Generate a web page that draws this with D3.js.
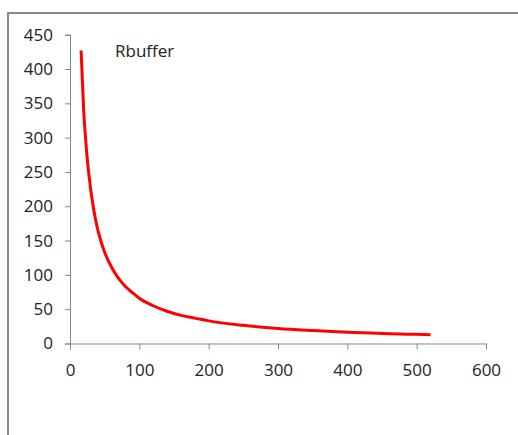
<!DOCTYPE html>
<html>
<head>
<meta charset="utf-8">
<script src="https://cdn.jsdelivr.net/npm/d3@7"></script>
<style>
  body { margin: 0; background: #fff; }
  svg { display: block; }
</style>
</head>
<body>
<div id="chart"></div>
<script>
// values
var seriesName = "Rbuffer";
var xValues = [16, 18, 20, 22, 25, 28, 32, 36, 40, 45, 50, 60, 70, 80, 90, 100,
               120, 140, 160, 180, 200, 250, 300, 350, 400, 450, 500, 520];
var yValues = [427, 380, 335, 305, 268, 240, 209, 185, 166, 148, 133, 111, 95, 83, 74, 66,
               55, 47, 41, 37, 33, 26.5, 22, 19, 16.5, 14.7, 13.3, 12.8];
var xTicks = [0, 100, 200, 300, 400, 500, 600];
var yTicks = [0, 50, 100, 150, 200, 250, 300, 350, 400, 450];

var width = 518, height = 435;

var svg = d3.select("#chart")
  .append("svg")
    .attr("width", width)
    .attr("height", height);

// outer chart frame (right and bottom run off the picture)
svg.append("rect")
  .attr("x", 8)
  .attr("y", 13)
  .attr("width", 530)
  .attr("height", 440)
  .attr("fill", "none")
  .attr("stroke", "#8a8a8a")
  .attr("stroke-width", 2);

var x = d3.scaleLinear()
  .domain([0, 600])
  .range([70, 486]);

var y = d3.scaleLinear()
  .domain([0, 450])
  .range([343.5, 34.7]);

// y axis
var yAxis = svg.append("g")
  .attr("transform", "translate(70,0)")
  .call(d3.axisLeft(y).tickValues(yTicks).tickSize(5).tickPadding(12));

// x axis
var xAxis = svg.append("g")
  .attr("transform", "translate(0,343.5)")
  .call(d3.axisBottom(x).tickValues(xTicks).tickSize(6).tickPadding(14));

[xAxis, yAxis].forEach(function (g) {
  g.select(".domain").attr("stroke", "#868686");
  g.selectAll(".tick line").attr("stroke", "#868686");
  g.selectAll(".tick text")
    .attr("fill", "#222")
    .style("font", "17px 'Open Sans'");
});

// the curve
var points = xValues.map(function (d, i) { return [d, yValues[i]]; });

var line = d3.line()
  .x(function (d) { return x(d[0]); })
  .y(function (d) { return y(d[1]); })
  .curve(d3.curveMonotoneX);

svg.append("path")
  .datum(points)
  .attr("d", line)
  .attr("fill", "none")
  .attr("stroke", "#ff0000")
  .attr("stroke-width", 3);

// series label
svg.append("text")
  .attr("x", 115)
  .attr("y", 57)
  .attr("fill", "#222")
  .style("font", "17px 'Open Sans'")
  .text(seriesName);
</script>
</body>
</html>
